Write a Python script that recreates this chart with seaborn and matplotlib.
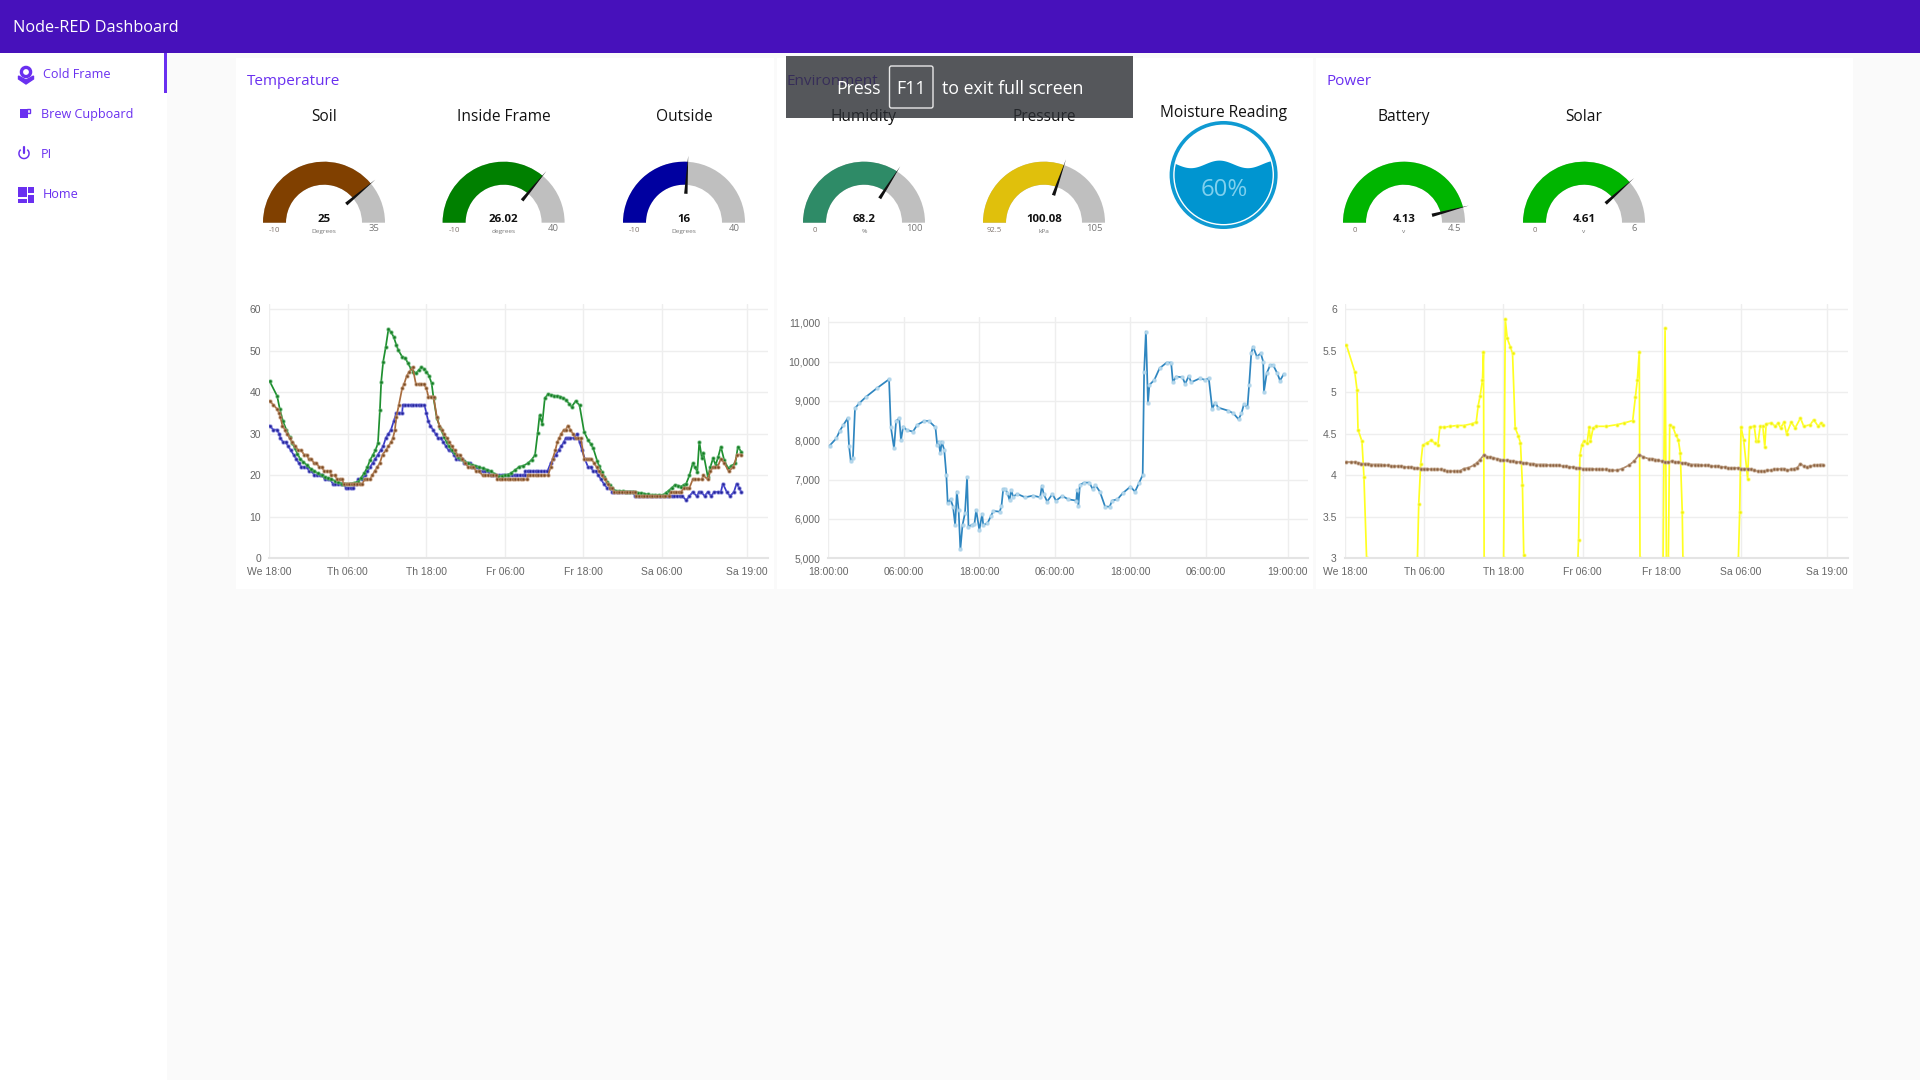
import numpy as np
import matplotlib
matplotlib.use("Agg")
import matplotlib.pyplot as plt
from matplotlib.colors import to_rgba
from matplotlib.patches import Wedge, Rectangle, Circle, Polygon, FancyBboxPatch
import seaborn as sns

# ---------- data ----------
app_title = "Node-RED Dashboard"
menu_items = ["Cold Frame", "Brew Cupboard", "PI", "Home"]
group_titles = ["Temperature", "Environment", "Power"]

gauge_titles = ["Soil", "Inside Frame", "Outside", "Humidity", "Pressure", "Battery", "Solar"]
gauge_values = [25, 26.02, 16, 68.2, 100.08, 4.13, 4.61]
gauge_labels = ["25", "26.02", "16", "68.2", "100.08", "4.13", "4.61"]
gauge_mins = [-10, -10, -10, 0, 92.5, 0, 0]
gauge_maxs = [35, 40, 40, 100, 105, 4.5, 6]
gauge_units = ["Degrees", "degrees", "Degrees", "%", "kPa", "v", "v"]
gauge_colors = ["#804000", "#008000", "#0000a0", "#2e8b67", "#e0c00c", "#00b500", "#00b500"]
moisture_pct = 60

time_ticks_a = ["We 18:00", "Th 06:00", "Th 18:00", "Fr 06:00", "Fr 18:00", "Sa 06:00", "Sa 19:00"]
time_ticks_b = ["18:00:00", "06:00:00", "18:00:00", "06:00:00", "18:00:00", "06:00:00", "19:00:00"]
tick_hours = [0, 12, 24, 36, 48, 60, 73]

# (hours since We 18:00, temperature)
green_pts = [(0.05,42.7),(1.2,39.1),(1.6,36),(2.1,33),(2.6,31),(3.1,29.3),(3.5,27.8),(3.9,26.5),(4.3,25.2),(4.7,24),
 (5.2,23.2),(5.8,22.4),(6.3,21.6),(6.9,21),(7.4,20.5),(8,20),(8.5,19.6),(9,19.3),(9.5,19),(10,18.7),(10.5,18.3),(11.1,18),
 (11.6,18),(12.3,18),(13,18.2),(13.6,18.5),(14,19.4),(14.5,20.5),(15,22),(15.4,23.7),(15.8,24.8),(16.2,26),(16.6,27.7),
 (16.9,35.7),(17.1,42.6),(17.4,47.4),(17.8,51),(18.2,55.2),(18.6,54.5),(19,53.4),(19.4,51.5),(19.7,50.2),(20.3,48.6),
 (20.8,48.2),(21.2,47),(21.6,45.8),(22,45),(22.4,44.6),(22.8,45.3),(23.2,46),(23.6,45.7),(24,45),(24.4,44),(24.8,42.2),
 (25.1,38.6),(25.6,33.7),(26.1,31.5),(26.7,29.3),(27.1,28),(27.5,27),(27.9,26),(28.3,25.3),(28.8,24.5),(29.3,24),
 (29.8,23.4),(30.4,22.9),(31,22.5),(31.5,22.3),(32,22),(32.6,21.7),(33.2,21.4),(33.8,21),(34.4,20.4),(35,19.8),(35.5,19.9),
 (36,20),(36.5,20.2),(36.9,20.5),(37.5,21.2),(38.2,22.1),(38.8,22.3),(39.5,22.9),(40.1,23.8),(40.6,24.9),(41,30.1),
 (41.3,34.5),(41.7,32.4),(42.1,38.6),(42.6,39.6),(43,39.4),(43.5,39.2),(44,39.1),(44.4,39),(44.9,38.6),(45.3,38.2),
 (45.8,37.3),(46.2,36.5),(46.8,37.9),(47.4,36.9),(48.1,30.5),(48.7,28.5),(49.1,27.6),(49.5,26.5),(50.1,23.5),(50.4,22.2),
 (50.8,20.9),(51.2,19.7),(51.6,18.5),(52,17.6),(52.4,16.9),(53,16.2),(53.5,16.2),(54,16.2),(54.5,16.1),(55,16.1),(55.5,16.1),
 (55.9,16),(56.4,15.8),(56.8,15.7),(57.3,15.6),(57.8,15.4),(58.4,15.3),(59,15.3),(59.6,15.3),(60.2,15.3),(60.6,15.8),(61,16.3),
 (61.5,17),(62,17.7),(62.5,17.5),(62.9,17.3),(63.3,17.7),(63.7,18),(64.2,20),(64.7,22.9),(65,22),(65.4,20.9),(65.7,28.1),
 (66.1,24.1),(66.3,25.5),(67,19.7),(67.4,22),(67.8,24.1),(68.2,22.5),(68.6,24.5),(69,26.9),(69.5,23.7),(70.1,21.7),(70.6,22.3),
 (71.2,22.9),(71.6,26.9),(72.1,25.7)]

blue_pts = [(0.05,32),(0.6,31),(1.2,31),(1.5,30),(1.7,29),(2.1,28),(2.5,28),(2.9,27),(3.3,26),(3.7,25),(4.1,24),(4.5,23),(4.9,22),
 (5.3,22),(5.7,22),(6.1,21),(6.5,21),(6.9,20),(7.3,20),(7.7,20),(8.1,20),(8.5,19),(8.9,19),(9.3,19),(9.7,18),(10.1,18),(10.5,18),
 (10.9,18),(11.3,18),(11.7,17),(12.1,17),(12.5,17),(12.8,17),(13.2,18),(13.6,19),(14.2,19),(14.6,20),(15,21),(15.4,22),(15.8,23),
 (16.2,24),(16.6,25),(17,26),(17.4,27),(17.8,29),(18.2,30),(18.6,31),(19,33),(19.4,35),(19.8,35),(20.3,35),(20.4,37),(20.8,37),
 (21.2,37),(21.6,37),(22,37),(22.4,37),(22.8,37),(23.2,37),(23.7,37),(24,35),(24.3,33),(24.6,32),(25,31),(25.4,30),(25.8,29),
 (26.2,29),(26.6,28),(27,27),(27.4,26),(27.8,26),(28.2,25),(28.6,24),(29,24),(29.4,24),(29.8,23),(30.2,23),(30.6,23),(31,22),
 (31.4,22),(31.8,22),(32.2,21),(32.6,21),(33,21),(33.4,21),(33.8,20),(34.2,20),(34.7,20),(35.1,20),(35.5,20),(35.9,20),(36.3,20),
 (36.7,20),(37.1,20),(37.5,20),(37.9,20),(38.3,20),(38.7,20),(39,20),(39.1,21),(39.5,21),(39.9,21),(40.3,21),(40.7,21),(41.1,21),
 (41.5,21),(41.9,21),(42.5,21),(43,23),(43.4,24),(43.8,25),(44.2,26),(44.6,27),(45,28),(45.3,29),(45.7,29),(46,29),(46.5,29),
 (47,30),(47.4,28),(47.8,26),(48.2,24),(48.7,22),(49.1,22),(49.5,21),(49.9,21),(50.3,20),(50.7,19),(51.1,18),(51.6,17),(52,17),
 (52.4,16),(52.7,16),(53.1,16),(53.5,16),(53.9,16),(54.3,16),(54.7,16),(55.1,16),(55.5,16),(55.9,15),(56.3,15),(56.7,15),(57.1,15),
 (57.5,15),(57.9,15),(58.3,15),(58.7,15),(59.1,15),(59.5,15),(59.9,15),(60.3,15),(60.7,15),(61.1,15),(61.5,15),(61.9,15),(62.3,15),
 (62.7,15),(63.1,15),(63.7,14),(64.2,15),(64.7,16),(65.3,15),(65.7,16),(66,16),(66.5,15),(67,16),(67.5,15),(68,16),(68.5,16),(69,16),
 (69.3,18),(69.9,16),(70.4,15),(71,16),(71.4,18),(71.8,17),(72.1,16)]

brown_pts = [(0.05,38),(0.6,37),(1.2,36),(1.5,35),(1.7,34),(2,32),(2.4,31),(2.7,30),(3.1,29),(3.5,28),(4,27),(4.4,26),(4.9,26),(5.3,25),
 (5.7,25),(6,24),(6.4,24),(6.8,23),(7.2,23),(7.6,22),(8,22),(8.4,21),(8.8,21),(9.2,21),(9.5,20),(10,20),(10.4,19),(10.8,19),(11.1,19),
 (11.4,18),(11.8,18),(12.2,18),(12.6,18),(13,18),(13.4,18),(13.8,18),(14.2,18),(14.6,19),(15,19),(15.4,19),(15.7,20),(16.1,21),(16.5,22),
 (16.9,23),(17.3,25),(17.8,26),(18.2,27),(18.6,28),(18.9,29),(19.2,31),(19.4,34),(19.8,37),(20.3,41),(20.6,42),(21,44),(21.4,45),(21.9,46),
 (22.4,42),(22.8,42),(23.2,42),(23.6,42),(24,41),(24.3,39),(24.7,39),(25.1,39),(25.6,34),(26,32),(26.4,31),(26.7,30),(27.1,29),(27.5,28),
 (27.9,27),(28.3,26),(28.7,25),(29.1,25),(29.5,24),(29.9,23),(30.4,22),(30.8,22),(31.2,22),(31.6,21),(32,21),(32.6,20),(33,20),(33.4,20),
 (33.8,20),(34.2,20),(34.7,20),(34.8,19),(35.2,19),(35.6,19),(36,19),(36.4,19),(36.8,19),(37.2,19),(37.6,19),(38,19),(38.4,19),(38.8,19),
 (39.4,19),(39.5,20),(39.9,20),(40.3,20),(40.7,20),(41.1,20),(41.5,20),(41.9,20),(42.6,20),(43,22),(43.3,24),(43.7,26),(44,28),(44.3,29),
 (44.6,30),(45,31),(45.3,31),(45.6,32),(46,31),(46.4,30),(46.8,29),(47.2,29),(47.6,29),(48.1,24),(48.5,24),(48.9,24),(49.2,24),(49.6,23),
 (50,22),(50.4,21),(50.8,20),(51.3,19),(51.7,18),(52.1,17),(52.4,17),(52.7,16),(53.1,16),(53.5,16),(53.9,16),(54.3,16),(54.7,16),(55.1,16),
 (55.5,16),(55.9,16),(56.1,15),(56.5,15),(56.9,15),(57.3,15),(57.7,15),(58.1,15),(58.5,15),(58.9,15),(59.3,15),(59.7,15),(60.1,15),(60.5,15),
 (61,15),(61.4,16),(61.8,16),(62.2,16),(62.6,16),(62.9,16),(63.4,17),(63.8,17),(64.2,17),(64.7,19),(65.1,19),(65.5,19),(66.1,19),(66.3,20),
 (67,19),(67.4,21),(67.8,22),(68.1,22),(68.5,22),(69,24),(69.5,23),(70.2,21),(70.9,22),(71.5,25),(72.1,25)]

thirst_h = [.22,1.28,1.84,2.4,3.07,3.29,3.57,3.91,4.24,4.91,6.03,7.7,9.65,9.93,10.44,10.77,11.27,11.55,11.89,12.44,13.45,14.12,15.23,15.96,17.02,17.3,17.52,17.8,18.02,18.42,18.75,18.97,19.42,19.81,20.15,20.42,20.7,20.98,21.32,21.71,22.04,22.27,22.77,23.21,23.49,23.99,24.44,24.61,25.28,25.84,26.23,27.23,27.51,27.79,28.13,28.46,28.79,29.07,29.35,30.02,31.25,32.53,33.65,33.93,34.21,34.77,35.6,36.16,37.17,38.11,39.4,39.51,39.73,39.96,40.63,41.46,42.02,42.41,43.14,43.97,44.7,45.09,45.93,46.76,47.99,48.72,49.39,49.94,50.17,50.45,50.78,51,51.79,52.62,53.74,54.46,54.74,55.25,56.25,56.7,57.25,57.65,59.04,59.88,60.44,60.99,61.44,61.94,63.5,64.34,65.18,65.63,66.02,66.58,66.85,67.19,67.47,68.08,68.7,69.08,69.2,69.64,70.2,70.65,71.32,71.76,72.32]
thirst_v = [7865,8051,8246,8390,8559,7865,7475,7542,8814,8941,9110,9322,9551,8348,7797,8492,8559,8008,8348,8263,8220,8390,8492,8492,8331,7881,7966,7670,7966,7754,7119,6398,6500,6314,5847,6695,6229,5229,5847,6144,7059,5805,5847,5864,6229,5720,6127,5847,5890,6076,6203,6186,6331,6763,6763,6653,6483,6737,6568,6636,6551,6593,6551,6847,6636,6441,6636,6466,6585,6500,6466,6737,6339,6864,6924,6924,6754,6864,6695,6314,6314,6466,6500,6653,6822,6695,6924,7119,9746,10763,8941,9407,9534,9831,9975,9975,9475,9619,9602,9432,9636,9475,9576,9534,9576,8797,8958,8831,8754,8686,8534,8686,8915,8839,9407,10212,10381,10127,10212,10000,9237,9703,9915,9915,9703,9517,9678]

solar_h = [.25,1.5,1.85,2,2.6,2.9,3.3,7,11,11.2,11.5,11.8,12.4,13.1,13.6,14.1,14.4,15,16,17,18,19.2,19.9,20.2,20.5,20.85,21,21.1,23,24.05,24.3,24.6,25.05,25.4,25.8,26.3,26.6,26.9,27.1,27.3,31,35.3,35.4,35.6,35.9,36.2,36.7,37,37.2,37.6,38,39.6,41.2,42.3,43.6,44,44.3,44.6,44.7,46,48.2,48.5,48.7,49,49.2,49.7,50.1,50.5,50.8,51.1,51.2,55,59.6,59.8,60,60.4,61,61.3,62,62.3,62.6,62.9,63.3,63.6,63.8,64.6,65.2,65.6,66,66.5,66.9,67.6,68.2,69,69.5,70.5,71,71.7,72.1,72.4]
solar_v = [5.57,5.25,5.03,4.55,4.41,3.98,3,2.8,3,3.66,4.14,4.36,4.39,4.42,4.39,4.37,4.58,4.58,4.59,4.6,4.6,4.62,4.64,4.84,4.96,5.15,5.48,3,2.8,3,5.88,5.65,5.55,5.47,4.57,4.47,4.39,3.88,3.04,2.9,2.8,3,3.22,4.24,4.37,4.41,4.39,4.58,4.41,4.57,4.59,4.59,4.61,4.63,4.66,4.94,5.15,5.49,3,2.8,3,5.77,3,3,4.61,4.58,4.49,4.43,4.27,3.56,3,2.8,3,3.56,4.58,4.43,3.96,4.58,4.59,4.41,4.41,4.59,4.59,4.34,4.62,4.63,4.59,4.63,4.57,4.64,4.5,4.64,4.57,4.69,4.59,4.61,4.67,4.59,4.63,4.61]

battery_pts = [(.25,4.16),(1,4.16),(1.5,4.16),(2,4.15),(2.5,4.14),(3,4.14),(3.5,4.14),(4,4.13),(4.5,4.13),(5,4.13),(5.5,4.13),(6,4.12),(6.5,4.12),
 (7,4.11),(7.5,4.11),(8,4.11),(8.5,4.11),(9,4.1),(9.5,4.1),(10,4.1),(10.5,4.09),(11,4.09),(11.5,4.08),(12,4.08),(12.5,4.08),(13,4.07),(13.5,4.07),
 (14,4.07),(14.5,4.07),(15,4.06),(15.5,4.05),(16,4.05),(16.5,4.05),(17,4.05),(17.4,4.05),(18,4.08),(18.7,4.09),(19.5,4.12),(20,4.15),(20.5,4.19),
 (21.1,4.25),(21.6,4.22),(22,4.22),(22.5,4.21),(23,4.2),(23.5,4.19),(24,4.18),(24.5,4.18),(25,4.17),(25.5,4.17),(26,4.16),(26.5,4.16),(27,4.15),
 (27.5,4.15),(28,4.14),(28.5,4.14),(29,4.13),(29.5,4.13),(30,4.13),(30.5,4.13),(31,4.12),(31.5,4.12),(32,4.12),(32.5,4.12),(33,4.11),(33.5,4.11),
 (34,4.1),(34.5,4.1),(35,4.09),(35.5,4.09),(36,4.08),(36.5,4.08),(37,4.08),(37.5,4.08),(38,4.07),(38.5,4.07),(39,4.07),(39.5,4.07),(40,4.06),
 (40.5,4.06),(41.2,4.06),(42,4.08),(43,4.12),(43.8,4.17),(44.6,4.25),(45.2,4.22),(46,4.2),(46.5,4.2),(47,4.19),(47.5,4.18),(48,4.17),(48.5,4.16),
 (49,4.16),(49.5,4.17),(50,4.16),(50.5,4.16),(51,4.15),(51.5,4.15),(52,4.14),(52.5,4.13),(53,4.13),(53.5,4.13),(54,4.12),(54.5,4.12),(55,4.12),
 (55.5,4.11),(56,4.11),(56.5,4.11),(57,4.1),(57.5,4.1),(58,4.09),(58.5,4.09),(59,4.09),(59.5,4.09),(60,4.08),(60.5,4.08),(61,4.08),(61.5,4.07),
 (62,4.06),(62.5,4.05),(63,4.05),(63.5,4.05),(64,4.06),(64.5,4.06),(65,4.07),(65.5,4.07),(66,4.08),(66.5,4.08),(67,4.06),(67.5,4.07),(68,4.08),
 (68.5,4.09),(69,4.14),(69.5,4.11),(70,4.1),(70.5,4.11),(71,4.12),(71.5,4.12),(72,4.13),(72.4,4.13)]

green_h, green_v = zip(*green_pts)
blue_h, blue_v = zip(*blue_pts)
brown_h, brown_v = zip(*brown_pts)
battery_h, battery_v = zip(*battery_pts)

# ---------- figure ----------
sns.set_theme(style="whitegrid")
UI_FONT = ["Open Sans", "DejaVu Sans"]
TICK_FONT = ["Liberation Sans", "DejaVu Sans"]
plt.rcParams["font.family"] = UI_FONT
W, H = 1920, 1080
fig = plt.figure(figsize=(19.2, 10.8), dpi=100, facecolor="#fafafa")


def pt(px):
    return px * 0.72


def px_axes(left, top, right, bottom, z):
    return fig.add_axes([left / W, 1 - bottom / H, (right - left) / W, (bottom - top) / H], zorder=z)


# background layer
bg = px_axes(0, 0, W, H, 0)
bg.set_xlim(0, W); bg.set_ylim(H, 0); bg.axis("off")
bg.add_patch(Rectangle((0, 0), 167, H, fc="white", ec="none"))
for x0, x1 in [(236, 773.5), (776.5, 1313), (1315.5, 1853)]:
    bg.add_patch(Rectangle((x0, 58), x1 - x0, 531, fc="white", ec="none"))


def draw_chart(box, ylim, yticks, ylabels, xlabels, series):
    ax = px_axes(*box, 1)
    ax.patch.set_alpha(0)
    for hrs, vals, col, mcol, halo in series:
        sns.lineplot(x=list(hrs), y=list(vals), ax=ax, color=col, linewidth=1.25, marker="o", markersize=2.4,
                     markeredgewidth=1.1, markerfacecolor=mcol, markeredgecolor=to_rgba(halo, 0.45),
                     estimator=None, sort=False, legend=False)
    ax.set_xlim(0, 76.2)
    ax.set_ylim(*ylim)
    ax.set_xticks(tick_hours, xlabels)
    ax.set_yticks(yticks, ylabels)
    ax.set_xlabel(""); ax.set_ylabel("")
    ax.grid(True, color="#eeeeee", linewidth=1)
    ax.set_axisbelow(True)
    ax.tick_params(length=0, labelsize=pt(10.4), labelcolor="#666666", pad=pt(8))
    ax.tick_params(axis="x", pad=pt(9))
    for lab in ax.get_xticklabels() + ax.get_yticklabels():
        lab.set_family(TICK_FONT)
    for s in ["top", "right", "left"]:
        ax.spines[s].set_visible(False)
    ax.spines["bottom"].set_color("#e4e4e4")
    ax.spines["bottom"].set_linewidth(1.5)
    return ax


draw_chart((269.3, 304, 768, 558.3), (0, 61.3), [0, 10, 20, 30, 40, 50, 60],
           ["0", "10", "20", "30", "40", "50", "60"], time_ticks_a,
           [(blue_h, blue_v, "#3a3ac8", "#22229a", "#8080e0"),
            (green_h, green_v, "#1f9030", "#127a20", "#70c080"),
            (brown_h, brown_v, "#a86c3e", "#7a4a22", "#d0a888")])
draw_chart((828.3, 317.3, 1308, 558.3), (5000, 11127), [5000, 6000, 7000, 8000, 9000, 10000, 11000],
           ["5,000", "6,000", "7,000", "8,000", "9,000", "10,000", "11,000"], time_ticks_b,
           [(thirst_h, thirst_v, "#2f86c0", "#b8d8ec", "#9ccbe6")])
draw_chart((1344.8, 304, 1848, 558.3), (3, 6.064), [3, 3.5, 4, 4.5, 5, 5.5, 6],
           ["3", "3.5", "4", "4.5", "5", "5.5", "6"], time_ticks_a,
           [(solar_h, solar_v, "#ffff22", "#f2f200", "#ffff88"),
            (battery_h, battery_v, "#b08a6c", "#8a5f3e", "#d0b8a0")])

# UI layer, pixel coordinates
ui = px_axes(0, 0, W, H, 5)
ui.set_xlim(0, W); ui.set_ylim(H, 0); ui.axis("off")
ui.patch.set_alpha(0)


def label(x, y, s, size, color="#111111", ha="center", weight="normal", family=UI_FONT):
    ui.text(x, y + 1.4, s, fontsize=pt(size), color=color, ha=ha, va="center", fontweight=weight, family=family)


HEADER = "#4711bb"
ACCENT = "#6a30f0"
ui.add_patch(Rectangle((0, 0), W, 52.7, fc=HEADER, ec="none"))
label(13, 27, app_title, 16.3, "white", ha="left")

ui.add_patch(Rectangle((164, 52.7), 3, 40, fc=ACCENT, ec="none"))
menu_xy = [(43, 73.5), (41, 113.5), (41, 153.5), (43, 193.5)]
for (mx, my), name in zip(menu_xy, menu_items):
    label(mx, my, name, 12.6, ACCENT, ha="left")

# menu icons
ui.add_patch(Circle((26, 72), 4.6, fc="none", ec=ACCENT, lw=2.4))
ui.add_patch(Polygon([(18.5, 76), (26, 80), (33.5, 76), (33.5, 79), (26, 84), (18.5, 79)], fc=ACCENT, ec=ACCENT))
ui.add_patch(Rectangle((20, 108.5), 7.5, 9.5, fc=ACCENT, ec="none"))
ui.add_patch(Rectangle((27, 108.5), 3, 4.5, fc="none", ec=ACCENT, lw=1))
ui.add_patch(Wedge((24, 153.5), 5.8, -50, 230, width=1.5, fc=ACCENT, ec="none"))
ui.plot([24, 24], [147, 153], color=ACCENT, lw=1.6)
for rx, ry, rw, rh in [(18, 187, 8.5, 10), (28, 187, 6, 6), (28, 194.5, 6, 8.5), (18, 198.5, 8.5, 4.5)]:
    ui.add_patch(Rectangle((rx, ry), rw, rh, fc=ACCENT, ec="none"))

for (gx, gy), name in zip([(247, 80), (787, 80), (1327, 80)], group_titles):
    label(gx, gy, name, 15.2, ACCENT, ha="left")

# gauges
gauge_x = [324, 503.6, 684, 864, 1044, 1404, 1584]
BASE, R_OUT, R_IN = 222.7, 61, 38
for i, gx in enumerate(gauge_x):
    lo, hi, val = gauge_mins[i], gauge_maxs[i], gauge_values[i]
    frac = (val - lo) / (hi - lo)
    theta = 180 + 180 * frac
    ui.add_patch(Wedge((gx, BASE), R_OUT, 180, 360, width=R_OUT - R_IN, fc="#bfbfbf", ec="none"))
    ui.add_patch(Wedge((gx, BASE), R_OUT, 180, theta, width=R_OUT - R_IN, fc=gauge_colors[i], ec="none"))
    a = np.deg2rad(theta)
    ux, uy = np.cos(a), np.sin(a)
    nx, ny = -uy, ux
    ui.add_patch(Polygon([(gx + 29 * ux + 1.7 * nx, BASE + 29 * uy + 1.7 * ny),
                          (gx + 29 * ux - 1.7 * nx, BASE + 29 * uy - 1.7 * ny),
                          (gx + 67 * ux, BASE + 67 * uy)], fc="#111111", ec="none"))
    label(gx, 115.5, gauge_titles[i], 15.5)
    label(gx, 218, gauge_labels[i], 11.5, "#111111", weight="bold")
    label(gx - 49.5, 229, f"{lo:g}", 7.8, "#80756f")
    label(gx, 230, gauge_units[i], 6.5, "#777777")
    label(gx + 50, 227.5, f"{hi:g}", 9.5, "#777777")

# liquid fill gauge
mx, my = 1223.6, 175
label(1224, 111.7, "Moisture Reading", 15.5)
ui.add_patch(Circle((mx, my), 52.2, fc="none", ec="#0f9ad2", lw=2.6))
wave_x = np.linspace(mx - 50, mx + 50, 200)
wave_y = 164.4 + 3.8 * np.cos((wave_x - 1191) / (1248 - 1191) * 2 * np.pi)
wave = Polygon(list(zip(wave_x, wave_y)) + [(mx + 50, my + 50), (mx - 50, my + 50)], fc="#0095d0", ec="none")
ui.add_patch(wave)
wave.set_clip_path(Circle((mx, my), 49, transform=ui.transData))
label(1224, 189, f"{moisture_pct}%", 24, "#7fd0ee")

# full-screen notice on top of everything
ui.add_patch(Rectangle((786, 56), 347, 62.3, fc="#2a2d32", alpha=0.8, ec="none", zorder=6))
ui.add_patch(FancyBboxPatch((889.5, 66), 43.5, 42, boxstyle="round,pad=0,rounding_size=2",
                            fc="none", ec="#e8e8e8", lw=1, zorder=7))
ui.text(836, 88.5, "Press", fontsize=pt(17.7), color="white", ha="left", va="center", zorder=7)
ui.text(911, 88.5, "F11", fontsize=pt(17.7), color="white", ha="center", va="center", zorder=7)
ui.text(942.5, 88.5, "to exit full screen", fontsize=pt(17.7), color="white", ha="left", va="center", zorder=7)

fig.savefig("out.png", dpi=100, facecolor=fig.get_facecolor())
